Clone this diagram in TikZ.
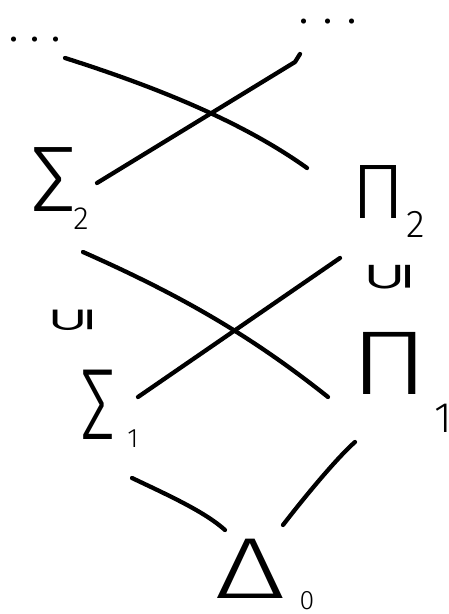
\documentclass[tikz,border=0pt]{standalone}
\usepackage{fontspec}
\usepackage{graphicx}
\newfontfamily\hand{Fira Sans Light}
\newfontfamily\symf{DejaVu Sans}
\newcommand{\fsz}[1]{\fontsize{#1}{#1}\selectfont}
\begin{document}
\begin{tikzpicture}[x=0.75pt,y=-0.75pt,
  conn/.style={line width=3.2pt, line cap=round, line join=round},
  glyph/.style={inner sep=0pt, font=\hand},
  incl/.style={inner sep=0pt, font=\symf\fsz{48}},
  dotsnode/.style={inner sep=0pt, font=\hand\fsz{40}}]
\useasboundingbox (0,0) rectangle (449,614);

% dots
\node[dotsnode] (dl) at (35,40) {.\kern7.6pt.\kern7.6pt.};
\node[dotsnode] (dr) at (328,22) {.\kern10pt.\kern10pt.};

% Sigma_2
\node[glyph] (S2) at (54,180) {\fsz{70}Σ};
\node[glyph] (S2i) at (81,219) {\fsz{24}2};
% Pi_2
\node[glyph] (P2) at (378,192) {\scalebox{1.05}[1]{\fsz{58}Π}};
\node[glyph] (P2i) at (416,224) {\fsz{29}2};
% Sigma_1
\node[glyph] (S1) at (98,405) {\scalebox{0.7}[1]{\fsz{76}Σ}};
\node[glyph] (S1i) at (133,439) {\fsz{20}1};
% Pi_1
\node[glyph] (P1) at (390,363) {\scalebox{1.3}[1]{\fsz{68}Π}};
\node[glyph] (P1i) at (443,418) {\fsz{32}1};
% Delta_0
\node[glyph] (D0) at (250,569) {\scalebox{1.4}[1]{\fsz{65}Δ}};
\node[glyph] (D0i) at (307,601) {\fsz{20}0};

% inclusions
\node[incl] (iL) at (73,320) {\scalebox{1}[0.5]{\rotatebox{90}{⊆}}};
\node[incl] (iR) at (390,277) {\scalebox{1.05}[0.58]{\rotatebox{90}{⊆}}};

% connector end points
\coordinate (a1) at (65,58);
\coordinate (a2) at (307,168);
\coordinate (b1) at (97,183);
\coordinate (b2) at (295,62);
\coordinate (b3) at (300,54);
\coordinate (c1) at (83,252);
\coordinate (c2) at (328,397);
\coordinate (d1) at (138,397);
\coordinate (d2) at (340,258);
\coordinate (e1) at (132,478);
\coordinate (e2) at (225,530);
\coordinate (f1) at (355,442);
\coordinate (f2) at (283,525);

\draw[conn] (a1) .. controls (150,85) and (240,120) .. (a2);
\draw[conn] (b1) -- (b2) -- (b3);
\draw[conn] (c1) .. controls (180,295) and (250,335) .. (c2);
\draw[conn] (d1) -- (d2);
\draw[conn] (e1) .. controls (170,496) and (205,512) .. (e2);
\draw[conn] (f1) .. controls (340,455) and (310,490) .. (f2);
\end{tikzpicture}
\end{document}
